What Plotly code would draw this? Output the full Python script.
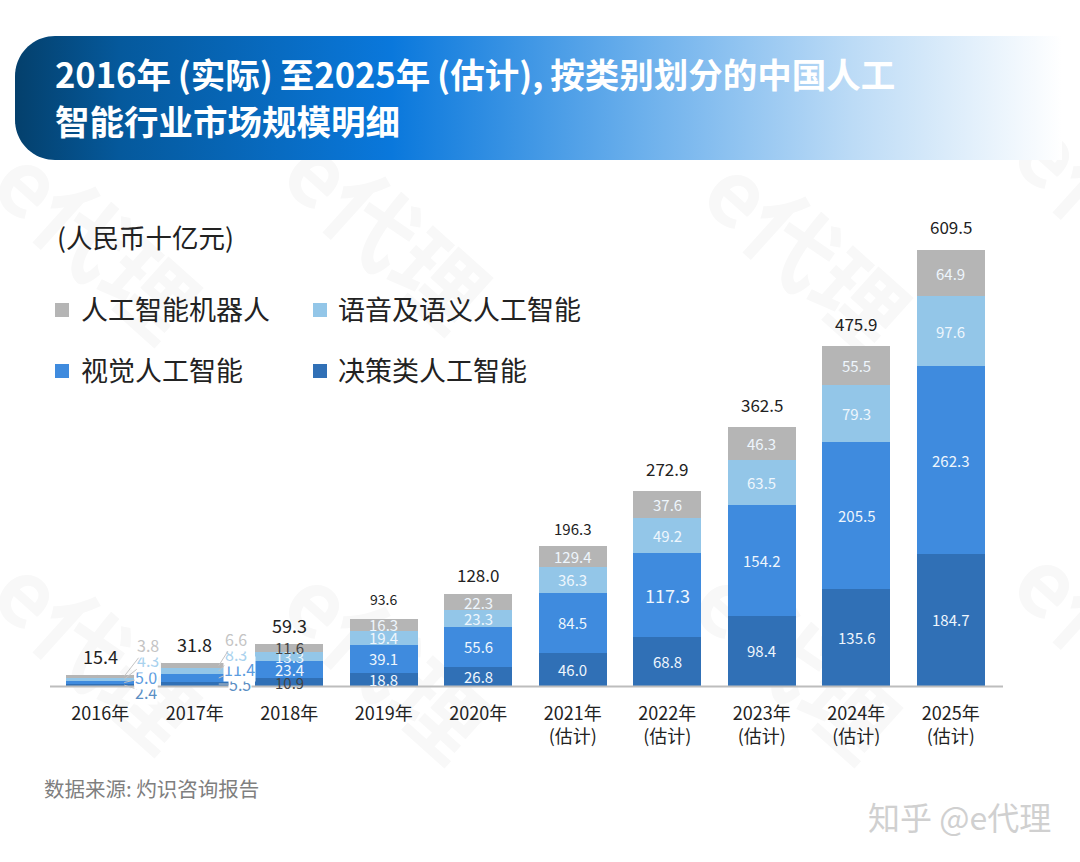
import numpy as np
import plotly.graph_objects as go

FONT = "Noto Sans CJK SC"

# --- Data ---
years = ['2016年', '2017年', '2018年', '2019年', '2020年',
         '2021年<br>(估计)', '2022年<br>(估计)', '2023年<br>(估计)', '2024年<br>(估计)', '2025年<br>(估计)']
decision = [2.4, 5.5, 10.9, 18.8, 26.8, 46.0, 68.8, 98.4, 135.6, 184.7]
vision = [5.0, 11.4, 23.4, 39.1, 55.6, 84.5, 117.3, 154.2, 205.5, 262.3]
speech = [4.3, 8.3, 13.3, 19.4, 23.3, 36.3, 49.2, 63.5, 79.3, 97.6]
robot = [3.8, 6.6, 11.6, 16.3, 22.3, 29.4, 37.6, 46.3, 55.5, 64.9]
totals = [15.4, 31.8, 59.3, 93.6, 128.0, 196.3, 272.9, 362.5, 475.9, 609.5]

# the source prints 129.4 on the 2021 robot segment, the bar itself is 29.4
robot_labels = ['3.8', '6.6', '11.6', '16.3', '22.3', '129.4', '37.6', '46.3', '55.5', '64.9']

series_names = ['决策类人工智能', '视觉人工智能', '语音及语义人工智能', '人工智能机器人']
series_colors = ['#3070b6', '#3f8bde', '#93c6e8', '#b5b5b5']
total_sizes = [18, 18, 18, 14, 17, 15, 17, 17, 17, 17]
total_shifts = [4, 4, 4, 8, 5, 5, 8, 8, 8, 9]

fig = go.Figure()

# bars
stack = [decision, vision, speech, robot]
for name, vals, color in zip(series_names, stack, series_colors):
    fig.add_trace(go.Bar(x=years, y=vals, name=name, marker=dict(color=color, line=dict(width=0)),
                         hoverinfo='name+y', showlegend=False))

# header band, drawn on a hidden pixel axis so it can carry a gradient
r = 40
t = np.linspace(0, np.pi / 2, 20)
band_x = np.concatenate([[1062, 15 + r], 15 + r - r * np.sin(t), 15 + r - r * np.cos(t), [1062, 1062]])
band_y = np.concatenate([[36, 36], 36 + r - r * np.cos(t), 160 - r + r * np.sin(t), [160, 36]])
fig.add_trace(go.Scatter(x=band_x, y=band_y, xaxis='x2', yaxis='y2', mode='none', fill='toself',
                         hoverinfo='skip', showlegend=False,
                         fillgradient=dict(type='horizontal', colorscale=[
                             [0, '#04406c'], [0.1, '#05599c'], [0.36, '#0a78dc'],
                             [0.6, '#6cb0ec'], [0.8, '#bcdbf6'], [1, '#ffffff']])))

fig.update_layout(
    width=1080, height=862,
    margin=dict(l=0, r=0, t=0, b=0),
    paper_bgcolor='white', plot_bgcolor='rgba(0,0,0,0)',
    barmode='stack', bargap=0.28,
    font=dict(family=FONT, color='#222222'),
    xaxis=dict(domain=[53 / 1080, 998 / 1080], type='category', tickfont=dict(size=18, color='#222222'),
               ticks='', ticklabelstandoff=15, showgrid=False, showline=False, zeroline=False, fixedrange=True),
    yaxis=dict(domain=[(862 - 686) / 862, (862 - 250) / 862], range=[0, 609.5], visible=False, fixedrange=True),
    xaxis2=dict(domain=[0, 1], range=[0, 1080], anchor='y2', visible=False, fixedrange=True),
    yaxis2=dict(domain=[0, 1], range=[862, 0], anchor='x2', visible=False, fixedrange=True),
)

# watermark, paper shapes in the lowest layer so the bars cover it
for x, y in [(90, 250), (380, 240), (800, 260), (1110, 220), (90, 660), (380, 670), (790, 670), (1110, 650)]:
    fig.add_shape(type='rect', xref='paper', yref='paper', layer='below',
                  x0=(x - 150) / 1080, x1=(x + 150) / 1080, y0=1 - (y + 150) / 862, y1=1 - (y - 150) / 862,
                  line=dict(width=0), fillcolor='rgba(0,0,0,0)',
                  label=dict(text='<b>e代理</b>', textangle=42, textposition='middle center',
                             font=dict(size=90, color='#f8f8f8', family=FONT)))

# baseline
fig.add_shape(type='line', xref='x2', yref='y2', x0=50, x1=1003, y0=686.5, y1=686.5,
              line=dict(color='#bdbdbd', width=2), layer='above')

annotations = []


def px_text(x, y, text, size, color='#222222', anchor='left', bold=False, **kw):
    annotations.append(dict(xref='x2', yref='y2', x=x, y=y, text=f'<b>{text}</b>' if bold else text,
                            showarrow=False, xanchor=anchor, yanchor='middle',
                            font=dict(size=size, color=color, family=FONT), **kw))


# header, unit, source, zhihu mark (thin spaces, the source sets this line tight)
px_text(53, 73, '2016年\u2009(实际)\u2009至2025年\u2009(估计),\u2009按类别划分的中国人工', 34.5, color='white', bold=True)
px_text(53, 120, '智能行业市场规模明细', 34.5, color='white', bold=True)
px_text(55, 236, '(人民币十亿元)', 26.5)
px_text(42, 788, '数据来源: 灼识咨询报告', 20.5, color='#7f7f7f')
px_text(866, 816, '知乎 @e代理', 32, color='#d0d0d0')

# hand made legend, two rows two columns
legend_rows = [(62, 310, 3, 79), (320, 310, 2, 336), (62, 371, 1, 79), (320, 371, 0, 336)]
for mx, my, idx, tx in legend_rows:
    fig.add_shape(type='rect', xref='x2', yref='y2', x0=mx - 7, x1=mx + 7, y0=my - 7, y1=my + 7,
                  fillcolor=series_colors[idx], line=dict(width=0))
    px_text(tx, my - 2, series_names[idx], 27)

# totals on top of each bar
for i, (yr, tot) in enumerate(zip(years, totals)):
    annotations.append(dict(x=yr, y=tot, text=f'{tot:.1f}', showarrow=False, yanchor='bottom',
                            yshift=total_shifts[i],
                            font=dict(size=total_sizes[i], color='#222222')))

# segment labels inside the bars
for s, vals in enumerate(stack):
    base = np.sum(stack[:s], axis=0) if s else np.zeros(len(years))
    for i in range(2, len(years)):
        text = robot_labels[i] if s == 3 else f'{vals[i]:.1f}'
        dark = i == 2 and s in (0, 3)
        size = 18 if i == 6 and s == 1 else 15
        annotations.append(dict(x=years[i], y=base[i] + vals[i] / 2, text=text, showarrow=False,
                                font=dict(size=size, color='#444444' if dark else '#eef6fd')))

# the two small bars: labels pulled out to the right with leader lines (order follows the stack)
offsets = [[(22, 7), (22, -5), (24, -19), (24, -31)], [(21, 0), (21, -9), (17, -17), (17, -27)]]
label_colors = ['#5b8fc4', '#5b9ce0', '#a9d2ee', '#c4c4c4']
for i in range(2):
    base = 0.0
    for s, vals in enumerate(stack):
        mid = base + vals[i] / 2
        base += vals[i]
        ox, oy = offsets[i][s]
        annotations.append(dict(x=years[i], y=mid, xshift=24, text=f'{vals[i]:.1f}', showarrow=True,
                                ax=ox, ay=oy, arrowhead=0, arrowwidth=1, arrowcolor='#c4c4c4',
                                font=dict(size=16, color=label_colors[s]), bgcolor='white', borderpad=0))

fig.update_layout(annotations=annotations)

fig.write_html("out.html", config=dict(displayModeBar=False), post_script="document.body.style.margin='0';")
